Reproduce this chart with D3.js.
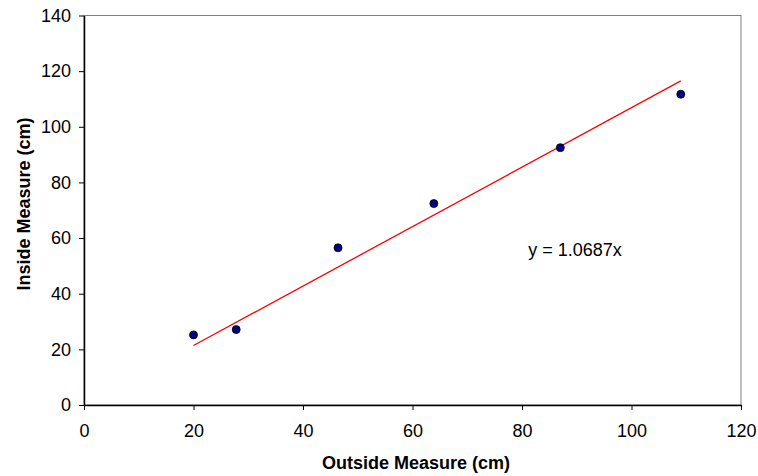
<!DOCTYPE html>
<html>
<head>
<meta charset="UTF-8">
<script src="https://cdn.jsdelivr.net/npm/d3@7"></script>
<style>
  body { margin: 0; background: #fff; }
  text { font-family: Arial, "Liberation Sans", sans-serif; }
</style>
</head>
<body>
<script>
    // Messwerte
    let outside = [20, 27.8, 46.4, 63.9, 87, 109];
    let inside = [25.2, 27.1, 56.5, 72.4, 92.5, 111.7];
    let slope = 1.0687;
    let xTicks = [0, 20, 40, 60, 80, 100, 120];
    let yTicks = [0, 20, 40, 60, 80, 100, 120, 140];

    let W = 758, H = 476;
    let margin = {top: 15.5, right: 17, bottom: 71, left: 84};
    let w = W - margin.left - margin.right,
        h = H - margin.top - margin.bottom;

    let svg = d3.select("body").append("svg")
        .attr("width", W)
        .attr("height", H);

    let scaleX = d3.scaleLinear().domain([0, 120]).range([0, w]);
    let scaleY = d3.scaleLinear().domain([0, 140]).range([h, 0]);

    let g = svg.append("g")
        .attr("transform", "translate(" + margin.left + "," + margin.top + ")");

    // Rahmen der Zeichenflaeche
    g.append("rect")
        .attr("width", w).attr("height", h)
        .attr("fill", "none")
        .attr("stroke", "#808080")
        .attr("stroke-width", 1);

    // x-Achse
    let xAxis = g.append("g")
        .attr("transform", "translate(0," + h + ")")
        .call(d3.axisBottom(scaleX).tickValues(xTicks).tickSize(5).tickPadding(14).tickSizeOuter(0));
    // y-Achse
    let yAxis = g.append("g")
        .call(d3.axisLeft(scaleY).tickValues(yTicks).tickSize(5).tickPadding(8).tickSizeOuter(0));

    [xAxis, yAxis].forEach(function (a) {
        a.select(".domain").attr("stroke", "#000").attr("stroke-width", 1.5);
        a.selectAll(".tick line").attr("stroke", "#000");
        a.selectAll(".tick text")
            .attr("font-family", "Arial, 'Liberation Sans', sans-serif")
            .attr("font-size", "18px")
            .attr("fill", "#000");
    });

    // Trendlinie
    g.append("line")
        .attr("x1", scaleX(d3.min(outside)))
        .attr("y1", scaleY(slope * d3.min(outside)))
        .attr("x2", scaleX(d3.max(outside)))
        .attr("y2", scaleY(slope * d3.max(outside)))
        .attr("stroke", "#ff0000")
        .attr("stroke-width", 1.3);

    // Punkte
    g.selectAll("circle")
        .data(outside)
        .enter()
        .append("circle")
        .attr("cx", function (d) { return scaleX(d); })
        .attr("cy", function (d, i) { return scaleY(inside[i]); })
        .attr("r", 4)
        .attr("fill", "#000080")
        .attr("stroke", "#000")
        .attr("stroke-width", 0.8);

    // Gleichung
    g.append("text")
        .attr("x", 575 - margin.left)
        .attr("y", 256 - margin.top)
        .attr("text-anchor", "middle")
        .attr("font-size", "18px")
        .text("y = 1.0687x");

    // Achsentitel
    svg.append("text")
        .attr("x", 416)
        .attr("y", 469)
        .attr("text-anchor", "middle")
        .attr("font-size", "18px")
        .attr("font-weight", "bold")
        .text("Outside Measure (cm)");

    svg.append("text")
        .attr("transform", "rotate(-90)")
        .attr("x", -204)
        .attr("y", 30)
        .attr("text-anchor", "middle")
        .attr("font-size", "18px")
        .attr("font-weight", "bold")
        .text("Inside Measure (cm)");
</script>
</body>
</html>
